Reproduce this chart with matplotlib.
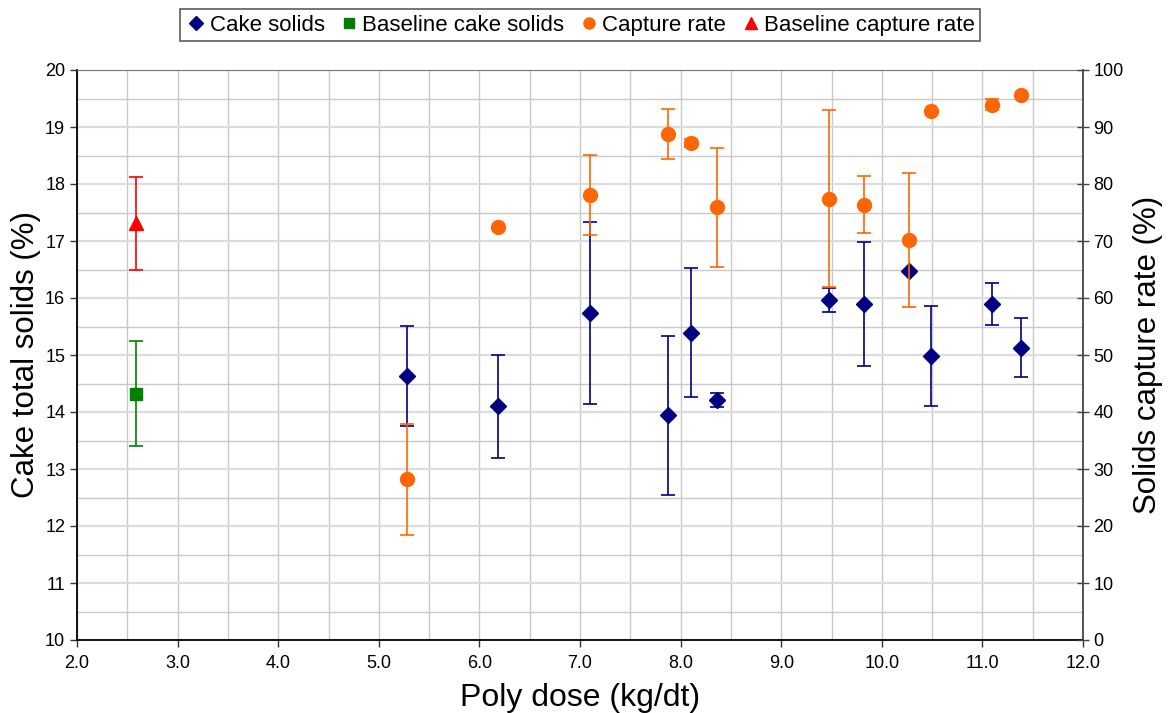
import matplotlib.pyplot as plt
from matplotlib.lines import Line2D
from matplotlib.ticker import MultipleLocator, FormatStrFormatter

plt.rcParams['font.family'] = ['Liberation Sans', 'DejaVu Sans']

# cake solids (left axis, %)
dose = [5.28, 6.18, 7.10, 7.87, 8.10, 8.36, 9.48, 9.82, 10.27, 10.49, 11.10, 11.38]
cake = [14.63, 14.10, 15.74, 13.94, 15.39, 14.21, 15.97, 15.89, 16.47, 14.98, 15.89, 15.13]
cake_err = [0.88, 0.90, 1.60, 1.39, 1.13, 0.13, 0.21, 1.09, 0.0, 0.88, 0.37, 0.52]

# capture rate (right axis, %)
capture = [28.2, 72.5, 78.1, 88.8, 87.2, 75.9, 77.4, 76.4, 70.2, 92.8, 93.9, 95.6]
capture_err = [9.7, 0.0, 7.0, 4.4, 0.75, 10.4, 15.5, 5.0, 11.8, 0.0, 1.0, 0.0]

# baseline
base_dose = [2.59]
base_cake = [14.32]
base_cake_err = [0.92]
base_capture = [73.1]
base_capture_err = [8.2]

navy = '#000080'
orange = '#ff6600'
green = '#008000'
red = '#ff0000'

fig = plt.figure(figsize=(11.68, 7.13), dpi=100)
ax = fig.add_axes([77 / 1168, 1 - 640 / 713, (1083 - 77) / 1168, 570 / 713])
ax2 = ax.twinx()

ebkw = dict(capsize=5, elinewidth=1.2, capthick=1.2, linestyle='none')
ax.errorbar(dose, cake, yerr=cake_err, marker='D', ms=8, color=navy, zorder=3, **ebkw)
ax.errorbar(base_dose, base_cake, yerr=base_cake_err, marker='s', ms=8, color=green, zorder=3, **ebkw)
ax2.errorbar(dose, capture, yerr=capture_err, marker='o', ms=10, color=orange, zorder=4, **ebkw)
ax2.errorbar(base_dose, base_capture, yerr=base_capture_err, marker='^', ms=10, color=red, zorder=4, **ebkw)

ax.set_xlim(2, 12)
ax.set_ylim(10, 20)
ax2.set_ylim(0, 100)

ax.xaxis.set_major_locator(MultipleLocator(1))
ax.xaxis.set_minor_locator(MultipleLocator(0.5))
ax.xaxis.set_major_formatter(FormatStrFormatter('%.1f'))
ax.yaxis.set_major_locator(MultipleLocator(1))
ax.yaxis.set_minor_locator(MultipleLocator(0.5))
ax2.yaxis.set_major_locator(MultipleLocator(10))

ax.grid(which='major', axis='x', color='#c8c8c8', lw=1.0)
ax.grid(which='minor', axis='x', color='#c8c8c8', lw=1.0)
ax.grid(which='major', axis='y', color='#dcdcdc', lw=1.6)
ax.grid(which='minor', axis='y', color='#c8c8c8', lw=1.0)
ax.set_axisbelow(True)

ax.tick_params(which='minor', length=0)
ax.tick_params(axis='both', which='major', labelsize=13, length=5, width=1, color='#333333')
ax.tick_params(axis='x', pad=6)
ax2.tick_params(axis='y', labelsize=13, length=8, width=1, direction='inout', color='#444444')

for s in ['left', 'bottom']:
    ax.spines[s].set_color('black')
    ax.spines[s].set_linewidth(1.3)
ax.spines['top'].set_color('#777777')
ax.spines['right'].set_visible(False)
ax2.spines['right'].set_color('#444444')
ax2.spines['right'].set_linewidth(1.3)
for s in ['left', 'top', 'bottom']:
    ax2.spines[s].set_visible(False)

ax.set_xlabel('Poly dose (kg/dt)', fontsize=23, labelpad=8)
ax.set_ylabel('Cake total solids (%)', fontsize=22.5, labelpad=3)
ax2.set_ylabel('Solids capture rate (%)', fontsize=22.5, labelpad=7)

handles = [
    Line2D([], [], marker='D', ms=7, color=navy, ls='none'),
    Line2D([], [], marker='s', ms=7, color=green, ls='none'),
    Line2D([], [], marker='o', ms=8, color=orange, ls='none'),
    Line2D([], [], marker='^', ms=8, color=red, ls='none'),
]
labels = ['Cake solids', 'Baseline cake solids', 'Capture rate', 'Baseline capture rate']
leg = fig.legend(handles, labels, loc='upper center', bbox_to_anchor=(580 / 1168, 1 - 9 / 713),
                 ncol=4, fontsize=16, frameon=True, fancybox=False, handletextpad=0.1,
                 columnspacing=0.6, handlelength=1.0, borderpad=0.25, borderaxespad=0)
leg.get_frame().set_edgecolor('#333333')
leg.get_frame().set_linewidth(1.2)

fig.savefig('out.png', dpi=100)
